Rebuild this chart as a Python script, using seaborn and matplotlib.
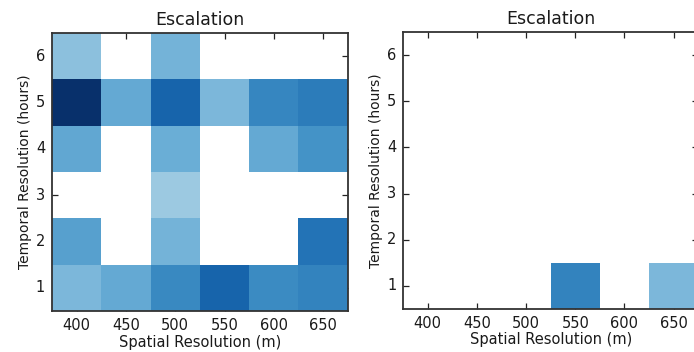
import numpy as np
import pandas as pd
import matplotlib
matplotlib.use("Agg")
import matplotlib.pyplot as plt
import seaborn as sns

spatial = [400, 450, 500, 550, 600, 650]
temporal = [6, 5, 4, 3, 2, 1]  # top to bottom

nan = np.nan
left_values = [
    [0.42, nan, 0.48, nan, nan, nan],    # 6 h
    [1.00, 0.52, 0.80, 0.46, 0.67, 0.71],  # 5 h
    [0.53, nan, 0.50, nan, 0.52, 0.62],  # 4 h
    [nan, nan, 0.38, nan, nan, nan],     # 3 h
    [0.56, nan, 0.48, nan, nan, 0.74],   # 2 h
    [0.46, 0.52, 0.66, 0.80, 0.65, 0.68],  # 1 h
]
right_values = [
    [nan, nan, nan, nan, nan, nan],
    [nan, nan, nan, nan, nan, nan],
    [nan, nan, nan, nan, nan, nan],
    [nan, nan, nan, nan, nan, nan],
    [nan, nan, nan, nan, nan, nan],
    [nan, nan, nan, 0.68, nan, 0.46],
]

title = "Escalation"
xlabel = "Spatial Resolution (m)"
ylabel = "Temporal Resolution (hours)"

sns.set_style("white")
plt.rcParams["font.family"] = ["DejaVu Sans"]

fig = plt.figure(figsize=(6.94, 3.52), dpi=100)
ax1 = fig.add_axes([0.075, 0.116, 0.426, 0.790])
ax2 = fig.add_axes([0.581, 0.122, 0.425, 0.787])

for ax, vals in [(ax1, left_values), (ax2, right_values)]:
    df = pd.DataFrame(vals, index=temporal, columns=spatial)
    sns.heatmap(df, ax=ax, cmap="Blues", vmin=0, vmax=1, cbar=False)
    ax.set_title(title, fontsize=12.5, pad=6, color="#1a1a1a")
    ax.set_xlabel(xlabel, fontsize=10.5, labelpad=1, color="#1a1a1a")
    ax.set_ylabel(ylabel, fontsize=10, labelpad=3, color="#1a1a1a")
    ax.set_xticklabels([str(s) for s in spatial], rotation=0, fontsize=10.5,
                       color="#1a1a1a")
    ax.set_yticklabels([str(t) for t in temporal], rotation=0, fontsize=10.5,
                       color="#1a1a1a")
    ax.tick_params(direction="in", top=True, right=True, bottom=True, left=True,
                   length=4, width=0.9, color="#222222", pad=5)
    for sp in ax.spines.values():
        sp.set_visible(True)
        sp.set_linewidth(1.3)
        sp.set_color("#333333")

fig.savefig("out.png", dpi=100)
